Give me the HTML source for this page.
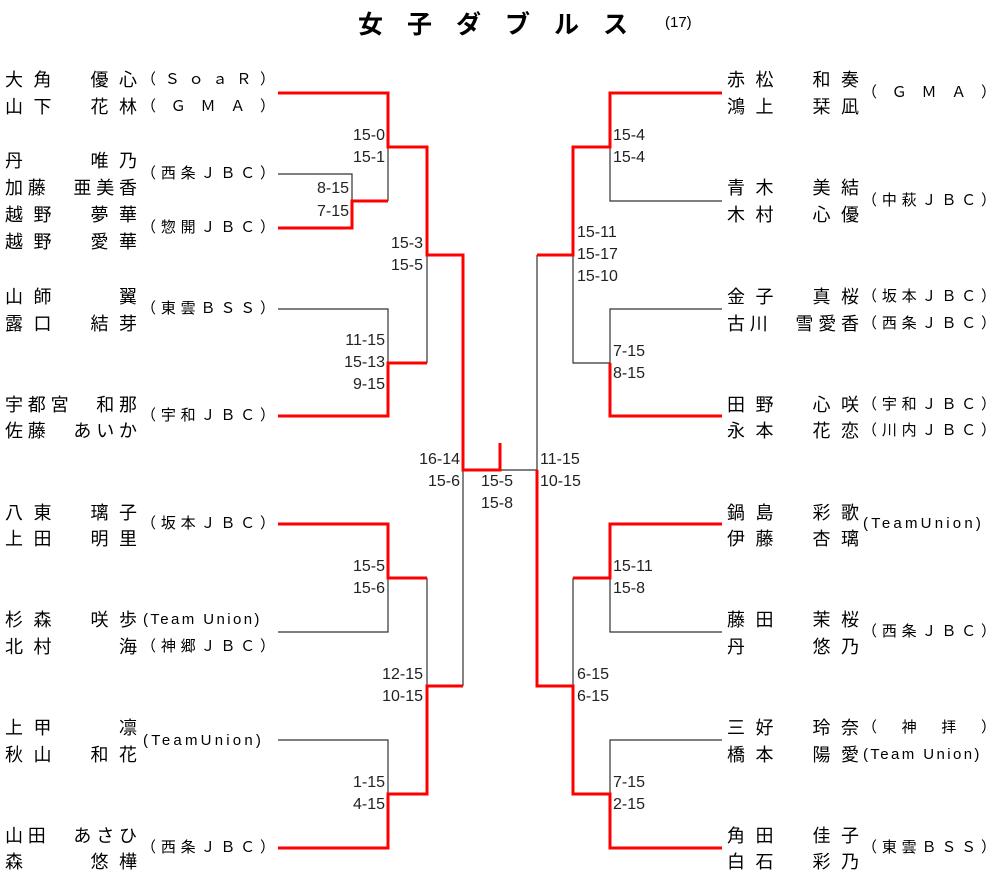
<!DOCTYPE html>
<html><head><meta charset="utf-8"><style>
body{margin:0;width:1000px;height:876px;background:#fff;position:relative;overflow:hidden;font-family:"Liberation Sans","Noto Sans CJK JP",sans-serif;color:#000}
.t{position:absolute;white-space:nowrap;line-height:20px;height:20px}
.n{font-size:18px;width:132px;text-align:justify;text-align-last:justify}
.c{font-size:15px;width:134px;text-align:justify;text-align-last:justify}
.u{font-size:15px;letter-spacing:2.4px}
.s{font-size:16px;color:#222}
.r{text-align:right;width:60px}
svg{position:absolute;left:0;top:0}
</style></head><body>
<div class="t" style="left:358px;top:9px;font-size:25px;font-weight:bold;letter-spacing:24px;height:32px;line-height:32px">女子ダブルス</div>
<div class="t" style="left:665px;top:13px;font-size:15px">(17)</div>
<svg width="1000" height="876">
<g stroke="#333" stroke-width="1.2" fill="none">
<path d="M278 174H352V201M388 147V201M278 309H388V363M427 255V363M278 632H388V578M278 740H388V794M427 578V686M463 470V686M500 470H537V255M722 201H610V147M573 255V363H610V309H722M722 632H610V578M573 578V686M722 740H610V794"/>
</g>
<g stroke="#f00" stroke-width="3" fill="none">
<path d="M278 93H388V147H427V255H463V470H500V443"/>
<path d="M278 228H352V201H388"/>
<path d="M278 416H388V363H427"/>
<path d="M278 524H388V578H427"/>
<path d="M278 848H388V794H427V686H463"/>
<path d="M722 93H610V147H573V255H537"/>
<path d="M722 416H610V363"/>
<path d="M722 524H610V578H573"/>
<path d="M537 470V686H573V794H610V848H722"/>
</g>
</svg>
<!-- left names -->
<div class="t n" style="left:5px;top:70px">大角　優心</div><div class="t c" style="left:141px;top:70px">（ＳｏａＲ）</div>
<div class="t n" style="left:5px;top:97px">山下　花林</div><div class="t c" style="left:141px;top:97px">（ＧＭＡ）</div>
<div class="t n" style="left:5px;top:151px">丹　　唯乃</div>
<div class="t n" style="left:5px;top:178px">加藤　亜美香</div><div class="t c" style="left:141px;top:164px">（西条ＪＢＣ）</div>
<div class="t n" style="left:5px;top:205px">越野　夢華</div>
<div class="t n" style="left:5px;top:232px">越野　愛華</div><div class="t c" style="left:141px;top:218px">（惣開ＪＢＣ）</div>
<div class="t n" style="left:5px;top:287px">山師　　翼</div>
<div class="t n" style="left:5px;top:314px">露口　結芽</div><div class="t c" style="left:141px;top:299px">（東雲ＢＳＳ）</div>
<div class="t n" style="left:5px;top:395px">宇都宮　和那</div>
<div class="t n" style="left:5px;top:421px">佐藤　あいか</div><div class="t c" style="left:141px;top:406px">（宇和ＪＢＣ）</div>
<div class="t n" style="left:5px;top:503px">八東　璃子</div>
<div class="t n" style="left:5px;top:529px">上田　明里</div><div class="t c" style="left:141px;top:514px">（坂本ＪＢＣ）</div>
<div class="t n" style="left:5px;top:610px">杉森　咲歩</div><div class="t u" style="left:143px;top:610px">(Team Union)</div>
<div class="t n" style="left:5px;top:637px">北村　　海</div><div class="t c" style="left:141px;top:637px">（神郷ＪＢＣ）</div>
<div class="t n" style="left:5px;top:718px">上甲　　凛</div>
<div class="t n" style="left:5px;top:745px">秋山　和花</div><div class="t u" style="left:143px;top:731px;letter-spacing:3.2px">(TeamUnion)</div>
<div class="t n" style="left:5px;top:826px">山田　あさひ</div>
<div class="t n" style="left:5px;top:852px">森　　悠樺</div><div class="t c" style="left:141px;top:838px">（西条ＪＢＣ）</div>
<!-- right names -->
<div class="t n" style="left:727px;top:70px">赤松　和奏</div>
<div class="t n" style="left:727px;top:97px">鴻上　栞凪</div><div class="t c" style="left:862px;top:83px">（ＧＭＡ）</div>
<div class="t n" style="left:727px;top:178px">青木　美結</div>
<div class="t n" style="left:727px;top:205px">木村　心優</div><div class="t c" style="left:862px;top:191px">（中萩ＪＢＣ）</div>
<div class="t n" style="left:727px;top:287px">金子　真桜</div><div class="t c" style="left:862px;top:287px">（坂本ＪＢＣ）</div>
<div class="t n" style="left:727px;top:314px">古川　雪愛香</div><div class="t c" style="left:862px;top:314px">（西条ＪＢＣ）</div>
<div class="t n" style="left:727px;top:395px">田野　心咲</div><div class="t c" style="left:862px;top:395px">（宇和ＪＢＣ）</div>
<div class="t n" style="left:727px;top:421px">永本　花恋</div><div class="t c" style="left:862px;top:421px">（川内ＪＢＣ）</div>
<div class="t n" style="left:727px;top:503px">鍋島　彩歌</div>
<div class="t n" style="left:727px;top:529px">伊藤　杏璃</div><div class="t u" style="left:863px;top:514px;letter-spacing:3.2px">(TeamUnion)</div>
<div class="t n" style="left:727px;top:610px">藤田　茉桜</div>
<div class="t n" style="left:727px;top:637px">丹　　悠乃</div><div class="t c" style="left:862px;top:622px">（西条ＪＢＣ）</div>
<div class="t n" style="left:727px;top:718px">三好　玲奈</div><div class="t c" style="left:862px;top:718px">（　神　拝　）</div>
<div class="t n" style="left:727px;top:745px">橋本　陽愛</div><div class="t u" style="left:863px;top:745px">(Team Union)</div>
<div class="t n" style="left:727px;top:826px">角田　佳子</div>
<div class="t n" style="left:727px;top:852px">白石　彩乃</div><div class="t c" style="left:862px;top:838px">（東雲ＢＳＳ）</div>
<!-- scores left -->
<div class="t s r" style="left:325px;top:126px">15-0</div><div class="t s r" style="left:325px;top:148px">15-1</div>
<div class="t s r" style="left:289px;top:179px">8-15</div><div class="t s r" style="left:289px;top:202px">7-15</div>
<div class="t s r" style="left:363px;top:234px">15-3</div><div class="t s r" style="left:363px;top:256px">15-5</div>
<div class="t s r" style="left:325px;top:331px">11-15</div><div class="t s r" style="left:325px;top:353px">15-13</div><div class="t s r" style="left:325px;top:375px">9-15</div>
<div class="t s r" style="left:400px;top:450px">16-14</div><div class="t s r" style="left:400px;top:472px">15-6</div>
<div class="t s r" style="left:325px;top:557px">15-5</div><div class="t s r" style="left:325px;top:579px">15-6</div>
<div class="t s r" style="left:363px;top:665px">12-15</div><div class="t s r" style="left:363px;top:687px">10-15</div>
<div class="t s r" style="left:325px;top:773px">1-15</div><div class="t s r" style="left:325px;top:795px">4-15</div>
<div class="t s" style="left:481px;top:472px">15-5</div><div class="t s" style="left:481px;top:494px">15-8</div>
<!-- scores right -->
<div class="t s" style="left:613px;top:126px">15-4</div><div class="t s" style="left:613px;top:148px">15-4</div>
<div class="t s" style="left:577px;top:223px">15-11</div><div class="t s" style="left:577px;top:245px">15-17</div><div class="t s" style="left:577px;top:267px">15-10</div>
<div class="t s" style="left:613px;top:342px">7-15</div><div class="t s" style="left:613px;top:364px">8-15</div>
<div class="t s" style="left:540px;top:450px">11-15</div><div class="t s" style="left:540px;top:472px">10-15</div>
<div class="t s" style="left:613px;top:557px">15-11</div><div class="t s" style="left:613px;top:579px">15-8</div>
<div class="t s" style="left:577px;top:665px">6-15</div><div class="t s" style="left:577px;top:687px">6-15</div>
<div class="t s" style="left:613px;top:773px">7-15</div><div class="t s" style="left:613px;top:795px">2-15</div>
</body></html>
